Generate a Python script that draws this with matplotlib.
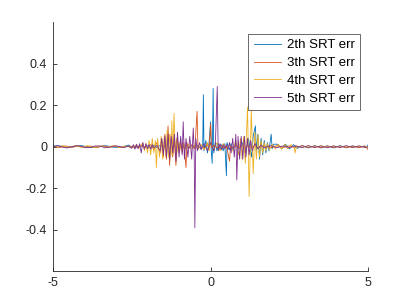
import matplotlib
matplotlib.use("Agg")
import matplotlib.pyplot as plt

# error curves (x, value) for each order
x2 = [-5, -4.85, -4.7, -4.55, -4.4, -4.25, -4.1, -3.95, -3.8, -3.65, -3.5, -3.35, -3.2, -3.05,
      -2.9, -2.75, -2.6, -2.5, -2.4, -2.3, -2.2, -2.1,
      -2.0, -1.9, -1.8, -1.7, -1.6, -1.5, -1.4, -1.3, -1.2, -1.1, -1.0, -0.9, -0.8, -0.7, -0.6,
      -0.5, -0.4, -0.3, -0.25, -0.23, -0.21, -0.15, -0.1, -0.05, 0.0, 0.02, 0.05, 0.08, 0.1,
      0.15, 0.2, 0.25, 0.3, 0.35, 0.4, 0.45, 0.5, 0.52, 0.6, 0.65, 0.7, 0.8, 0.9, 1.0, 1.1,
      1.2, 1.3, 1.35, 1.42, 1.45, 1.5, 1.55, 1.6, 1.65, 1.7, 1.75, 1.8, 1.85, 1.92, 1.95, 2.0,
      2.125, 2.25, 2.375, 2.5, 2.625, 2.75, 2.9, 3.1, 3.3, 3.5, 3.7, 3.9, 4.1, 4.3, 4.5, 4.7,
      4.85, 4.95, 5.0]
y2 = [0.003, 0.005, 0.001, -0.004, -0.002, 0.003, 0.005, 0.001, -0.004, -0.003, 0.002, 0.005,
      0.002, -0.003, -0.004, 0.001, 0.008, -0.002, 0.003, -0.004, 0.004, -0.003,
      0.005, -0.006, 0.008, -0.005, 0.006, -0.004, 0.01, -0.008, 0.006, -0.006, 0.004, -0.004,
      0.005, -0.005, 0.004, -0.003, 0.006, -0.01, 0.01, 0.25, -0.02, 0.03, -0.03, 0.02, 0.12,
      -0.02, -0.08, 0.28, -0.03, 0.02, -0.02, 0.015, -0.015, 0.01, -0.02, 0.015, -0.14, 0.02,
      -0.015, 0.015, -0.01, 0.01, -0.01, 0.02, -0.03, 0.04, -0.05, 0.05, 0.10, -0.02, 0.06,
      -0.06, 0.04, -0.04, 0.03, -0.03, 0.02, -0.02, 0.06, -0.01, 0.012,
      0.012, -0.01, 0.012, -0.01, 0.01, -0.008, 0.006, -0.006, 0.005, -0.006, 0.004,
      -0.006, 0.005, -0.005, 0.004, -0.004, 0.003, -0.005, 0.012]

x3 = [-5, -4.8, -4.6, -4.4, -4.2, -4.0, -3.8, -3.6, -3.4, -3.2, -3.0, -2.8, -2.6, -2.4, -2.2,
      -2.0, -1.9, -1.8, -1.7, -1.6, -1.55, -1.5, -1.45, -1.4, -1.35, -1.3, -1.25, -1.2, -1.15,
      -1.1, -1.05, -1.0, -0.95, -0.9, -0.85, -0.78, -0.75, -0.7, -0.6, -0.5, -0.43, -0.4, -0.3,
      -0.2, -0.1, -0.05, 0.0, 0.03, 0.1, 0.2, 0.3, 0.4, 0.5, 0.6, 0.63, 0.7, 0.8, 0.9, 1.0,
      1.1, 1.2, 1.3, 1.4, 1.5, 1.7, 1.9, 2.1, 2.3, 2.5, 2.7, 2.9, 3.1, 3.3, 3.5, 3.7, 3.9,
      4.1, 4.3, 4.5, 4.7, 4.9, 5.0]
y3 = [0.002, -0.004, 0.004, -0.003, 0.004, -0.004, 0.003, -0.004, 0.004, -0.003, 0.004,
      -0.004, 0.003, -0.004, 0.005,
      -0.006, 0.01, -0.015, 0.02, -0.03, 0.04, -0.05, 0.06, -0.06, 0.10, -0.09, 0.06, -0.05,
      0.04, -0.09, 0.03, -0.02, 0.02, -0.03, 0.02, -0.10, 0.02, -0.01, 0.01, -0.01, 0.17,
      -0.01, 0.008, -0.008, 0.01, -0.01, 0.11, -0.005, 0.008, -0.006, 0.008, -0.006, 0.006,
      -0.07, 0.005, -0.005, 0.006, -0.006, 0.006, -0.005, 0.005, -0.006, 0.005, -0.004,
      0.004, -0.005, 0.005, -0.004, 0.004, -0.004, 0.005, -0.004, 0.004, -0.005, 0.004,
      -0.004, 0.004, -0.005, 0.004, -0.005, 0.004, -0.015]

x4 = [-5, -4.85, -4.7, -4.5, -4.3, -4.1, -3.9, -3.7, -3.5, -3.3, -3.1, -2.9, -2.7, -2.5, -2.35,
      -2.25, -2.15, -2.1, -2.05, -2.0, -1.95, -1.9, -1.85, -1.8, -1.75, -1.72, -1.68, -1.62,
      -1.57, -1.52, -1.47, -1.42, -1.38, -1.34, -1.3, -1.25, -1.23, -1.2, -1.16, -1.12, -1.08,
      -1.03, -0.98, -0.93, -0.88, -0.8, -0.7, -0.6, -0.5, -0.4, -0.3, -0.2, -0.1, -0.05, 0.0,
      0.1, 0.2, 0.3, 0.4, 0.5, 0.6, 0.7, 0.8, 0.88, 0.95, 1.0, 1.05, 1.1, 1.17, 1.22, 1.29,
      1.35, 1.4, 1.45, 1.5, 1.55, 1.6, 1.65, 1.7, 1.75, 1.8, 1.87, 1.95, 2.05, 2.15, 2.25,
      2.35, 2.45, 2.55, 2.65, 2.68, 2.72, 2.9, 3.1, 3.3, 3.5, 3.7, 3.9, 4.1, 4.3, 4.5, 4.7,
      4.9, 5.0]
y4 = [0.004, -0.002, 0.005, -0.004, 0.005, -0.003, 0.005, -0.004, 0.004, -0.004, 0.005,
      -0.004, 0.004, -0.005, 0.008, -0.006, 0.02, -0.02, 0.015, -0.03, 0.03, -0.04, 0.04,
      -0.03, 0.03, -0.10, 0.04, -0.05, 0.05, -0.06, 0.05, -0.05, 0.08, -0.05, 0.06, -0.04,
      0.125, -0.04, 0.16, -0.03, 0.04, -0.03, 0.02, -0.02, 0.015, -0.01, 0.01, -0.01, 0.008,
      -0.008, 0.01, -0.015, 0.02, -0.02, 0.015, -0.015, 0.02, -0.02, 0.015, -0.01, 0.01,
      -0.02, 0.03, -0.04, 0.04, -0.06, 0.05, -0.08, 0.19, -0.24, 0.18, -0.13, 0.07, -0.06,
      0.06, -0.05, 0.03, -0.03, 0.02, -0.02, 0.015, -0.015, 0.012, -0.01, 0.012, -0.012,
      0.012, -0.01, 0.01, -0.006, -0.03, 0.004, -0.004, 0.004, -0.004, 0.005, -0.004, 0.004,
      -0.004, 0.004, -0.005, 0.004, -0.004, 0.002]

x5 = [-5, -4.85, -4.7, -4.55, -4.4, -4.25, -4.1, -3.95, -3.8, -3.65, -3.5, -3.35, -3.2, -3.05,
      -2.9, -2.75, -2.6, -2.5, -2.45, -2.4, -2.35, -2.3, -2.25, -2.2, -2.15, -2.1, -2.05, -2.0,
      -1.95, -1.9, -1.85, -1.8, -1.7, -1.6, -1.55, -1.5, -1.45, -1.4, -1.35, -1.3, -1.25, -1.2,
      -1.15, -1.1, -1.05, -1.0, -0.95, -0.9, -0.87, -0.83, -0.78, -0.72, -0.66, -0.6, -0.55,
      -0.52, -0.5, -0.47, -0.42, -0.35, -0.3, -0.2, -0.1, 0.0, 0.1, 0.15, 0.21, 0.24, 0.3,
      0.35, 0.4, 0.45, 0.5, 0.55, 0.6, 0.65, 0.7, 0.75, 0.8, 0.83, 0.87, 0.92, 0.97, 1.02,
      1.07, 1.12, 1.17, 1.22, 1.27, 1.32, 1.4, 1.5, 1.6, 1.7, 1.9, 2.1, 2.3, 2.5, 2.7, 2.9,
      3.1, 3.3, 3.5, 3.7, 3.9, 4.1, 4.3, 4.5, 4.7, 4.9, 5.0]
y5 = [0.0, 0.005, -0.002, -0.006, 0.0, 0.005, 0.002, -0.005, -0.003, 0.004, 0.003, -0.005,
      -0.002, 0.004, 0.001, -0.004, 0.003, -0.008, 0.01, -0.012, 0.012, -0.01, 0.015, -0.03,
      0.02, -0.012, 0.015, -0.01, 0.01, -0.012, 0.01, -0.005, 0.006, -0.02, 0.04, -0.04, 0.05,
      -0.05, 0.06, -0.06, 0.05, -0.03, 0.06, -0.07, 0.07, -0.05, 0.05, -0.04, 0.12, -0.06,
      0.04, -0.05, 0.05, -0.06, 0.09, -0.04, -0.39, 0.04, -0.02, 0.02, -0.015, 0.015, -0.02,
      0.02, -0.02, 0.01, 0.29, -0.02, 0.015, -0.015, 0.01, -0.01, 0.01, -0.015, 0.02, -0.03,
      0.04, -0.05, 0.06, -0.16, 0.05, -0.06, 0.05, -0.06, 0.05, -0.05, 0.04, -0.04, 0.03,
      -0.02, 0.015, -0.01, 0.008, -0.006, 0.005, -0.005, 0.004, -0.005, 0.004, -0.004, 0.005,
      -0.004, 0.004, -0.005, 0.004, -0.004, 0.005, -0.004, 0.004, -0.004, 0.0]

labels = ["2th SRT err", "3th SRT err", "4th SRT err", "5th SRT err"]
colors = ["#0072BD", "#D95319", "#EDB120", "#7E2F8E"]

plt.rcParams["font.family"] = ["Liberation Sans", "DejaVu Sans"]
plt.rcParams["axes.unicode_minus"] = False

fig = plt.figure(figsize=(4.07, 3.05), dpi=100)
ax = fig.add_axes([0.13, 0.11, 0.775, 0.818])

for xs, ys, lab, c in zip([x2, x3, x4, x5], [y2, y3, y4, y5], labels, colors):
    ax.plot(xs, ys, color=c, lw=0.6, label=lab)

ax.set_xlim(-5, 5)
ax.set_ylim(-0.6, 0.6)
ax.set_xticks([-5, 0, 5])
ax.set_yticks([-0.4, -0.2, 0, 0.2, 0.4])
ax.set_yticklabels(["-0.4", "-0.2", "0", "0.2", "0.4"])

for s in ["top", "right"]:
    ax.spines[s].set_visible(False)
for s in ["left", "bottom"]:
    ax.spines[s].set_color("#262626")
    ax.spines[s].set_linewidth(0.6)
ax.tick_params(direction="in", length=3, width=0.6, colors="#262626", labelsize=9, pad=4)

leg = ax.legend(loc="upper right", fontsize=9.5, frameon=True, fancybox=False,
                edgecolor="#262626", handlelength=2.1, borderpad=0.4, labelspacing=0.42,
                handletextpad=0.45, borderaxespad=0.0, bbox_to_anchor=(0.975, 0.952))
leg.get_frame().set_linewidth(0.6)

fig.savefig("out.png", dpi=100)
